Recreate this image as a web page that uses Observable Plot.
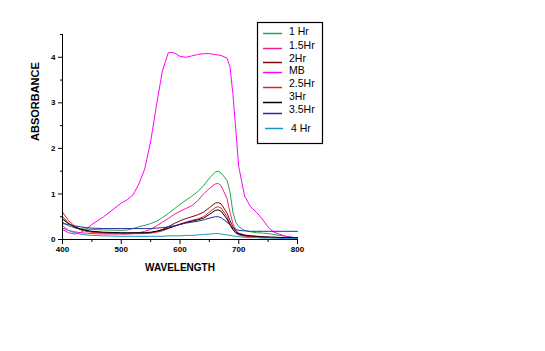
<!DOCTYPE html>
<html>
<head>
<meta charset="utf-8">
<script src="https://cdn.jsdelivr.net/npm/d3@7"></script>
<script src="https://cdn.jsdelivr.net/npm/@observablehq/plot@0.6"></script>
<style>
  html, body { margin: 0; padding: 0; background: #fff; }
  #chart { position: relative; width: 545px; height: 351px; }
</style>
</head>
<body>
<div id="chart"></div>
<script>
// Wavelengths (nm)
const wavelengths = [400,410,420,430,440,450,470,500,510,520,530,540,550,560,570,580,590,600,610,620,630,640,650,660,665,670,680,685,690,695,700,710,720,730,740,750,760,780,800];

const seriesNames = ["1 Hr","1.5Hr","2Hr","MB","2.5Hr","3Hr","3.5Hr","4 Hr"];
const seriesColors = ["#1fa84a","#ff1a8c","#7a0a14","#ff00ff","#e81c24","#000000","#2a2aa0","#1896c8"];

const hr1   = [0.38,0.3,0.26,0.24,0.23,0.22,0.21,0.2,0.21,0.24,0.28,0.31,0.35,0.4,0.48,0.57,0.67,0.77,0.86,0.95,1.05,1.18,1.35,1.48,1.5,1.46,1.3,1.05,0.6,0.38,0.28,0.2,0.17,0.15,0.14,0.13,0.11,0.07,0.03];
const hr1_5 = [0.25,0.2,0.17,0.15,0.14,0.13,0.12,0.12,0.12,0.13,0.15,0.18,0.22,0.3,0.38,0.46,0.55,0.62,0.68,0.74,0.85,1.0,1.12,1.22,1.23,1.18,0.9,0.6,0.35,0.2,0.14,0.1,0.08,0.07,0.06,0.05,0.04,0.03,0.02];
const hr2   = [0.5,0.36,0.27,0.22,0.19,0.17,0.15,0.13,0.13,0.13,0.13,0.14,0.15,0.18,0.22,0.28,0.35,0.41,0.46,0.5,0.54,0.6,0.7,0.8,0.81,0.78,0.58,0.42,0.28,0.18,0.13,0.09,0.07,0.06,0.05,0.05,0.04,0.04,0.03];
const mb    = [0.22,0.15,0.12,0.15,0.22,0.33,0.5,0.8,0.87,0.98,1.22,1.55,2.15,2.95,3.7,4.1,4.1,4.02,4.0,4.03,4.06,4.08,4.08,4.06,4.05,4.04,3.98,3.8,3.2,2.4,1.6,0.95,0.72,0.6,0.45,0.27,0.16,0.07,0.03];
const hr2_5 = [0.6,0.42,0.3,0.22,0.18,0.16,0.14,0.13,0.13,0.13,0.13,0.13,0.14,0.16,0.19,0.24,0.29,0.34,0.38,0.42,0.45,0.5,0.6,0.7,0.72,0.69,0.5,0.35,0.22,0.14,0.1,0.07,0.06,0.06,0.05,0.05,0.05,0.04,0.03];
const hr3   = [0.45,0.35,0.28,0.23,0.2,0.18,0.16,0.15,0.15,0.15,0.15,0.15,0.16,0.18,0.21,0.25,0.29,0.33,0.37,0.4,0.43,0.47,0.55,0.64,0.65,0.62,0.45,0.32,0.22,0.15,0.12,0.09,0.08,0.07,0.06,0.05,0.05,0.04,0.04];
const hr3_5 = [0.35,0.33,0.3,0.28,0.26,0.25,0.24,0.24,0.24,0.24,0.24,0.24,0.24,0.25,0.26,0.28,0.3,0.33,0.36,0.38,0.4,0.43,0.47,0.5,0.5,0.48,0.38,0.32,0.26,0.22,0.2,0.19,0.18,0.18,0.18,0.18,0.18,0.18,0.18];
const hr4   = [0.3,0.2,0.15,0.12,0.1,0.09,0.08,0.07,0.07,0.07,0.07,0.07,0.07,0.07,0.07,0.08,0.08,0.08,0.09,0.09,0.1,0.11,0.12,0.13,0.13,0.12,0.1,0.09,0.08,0.07,0.06,0.05,0.04,0.04,0.03,0.03,0.03,0.02,0.02];

const seriesValues = [hr1, hr1_5, hr2, mb, hr2_5, hr3, hr3_5, hr4];

const xMajorTicks = [400,500,600,700,800];
const xMinorTicks = [450,550,650,750];
const yMajorTicks = [0,1,2,3,4];
const yMinorTicks = [0.5,1.5,2.5,3.5,4.5];

const xLabel = "WAVELENGTH";
const yLabel = "ABSORBANCE";

const rows = seriesNames.flatMap((name, i) =>
  wavelengths.map((w, j) => ({series: name, wl: w, a: seriesValues[i][j]}))
);

const tickFont = {fontWeight: "bold", fontSize: 8};

const svg = Plot.plot({
  width: 545,
  height: 351,
  marginLeft: 62,
  marginRight: 248,
  marginTop: 34,
  marginBottom: 112,
  x: {domain: [400, 800]},
  y: {domain: [0, 4.5]},
  color: {domain: seriesNames, range: seriesColors},
  style: {fontFamily: "Arial, 'Liberation Sans', sans-serif", background: "#fff", color: "#000"},
  marks: [
    Plot.lineY(rows, {x: "wl", y: "a", stroke: "series", strokeWidth: 1}),
    Plot.ruleX([400], {stroke: "#000", strokeWidth: 1}),
    Plot.ruleY([0], {stroke: "#000", strokeWidth: 1}),
    Plot.axisX(xMajorTicks, {tickSize: 5, tickPadding: 2, label: null, ...tickFont}),
    Plot.axisX(xMinorTicks, {tickSize: 3, tickFormat: () => "", label: null}),
    Plot.axisY(yMajorTicks, {tickSize: 4, tickPadding: 3, label: null, ...tickFont}),
    Plot.axisY(yMinorTicks, {tickSize: 2, tickFormat: () => "", label: null}),
    Plot.text([xLabel], {frameAnchor: "bottom", dy: 28, fontWeight: "bold", fontSize: 10, lineAnchor: "middle"}),
    Plot.text([yLabel], {frameAnchor: "left", dx: -27, dy: 4, rotate: -90, fontWeight: "bold", fontSize: 11, lineAnchor: "middle"})
  ]
});

document.getElementById("chart").appendChild(svg);

// Legend box
const legendTextY = [31, 45, 58, 70, 83, 96, 109, 128];
const legendLineY = [33, 48, 62, 72, 87, 102, 113, 128];
const lg = d3.select(svg).append("g").attr("class", "legend").attr("text-anchor", "start");
lg.append("rect")
  .attr("x", 257.5).attr("y", 22.5).attr("width", 65).attr("height", 121)
  .attr("fill", "#fff").attr("stroke", "#000").attr("stroke-width", 1.2);
seriesNames.forEach((name, i) => {
  const last = i === seriesNames.length - 1;
  lg.append("line")
    .attr("x1", last ? 265 : 263).attr("x2", last ? 283 : 282)
    .attr("y1", legendLineY[i] + 0.5).attr("y2", legendLineY[i] + 0.5)
    .attr("stroke", seriesColors[i]).attr("stroke-width", 1.5);
  lg.append("text")
    .attr("x", last ? 291 : 289).attr("y", legendTextY[i])
    .attr("dy", "0.35em")
    .attr("text-anchor", "start")
    .attr("font-size", 10.5)
    .attr("fill", "#000")
    .text(name);
});
</script>
</body>
</html>
